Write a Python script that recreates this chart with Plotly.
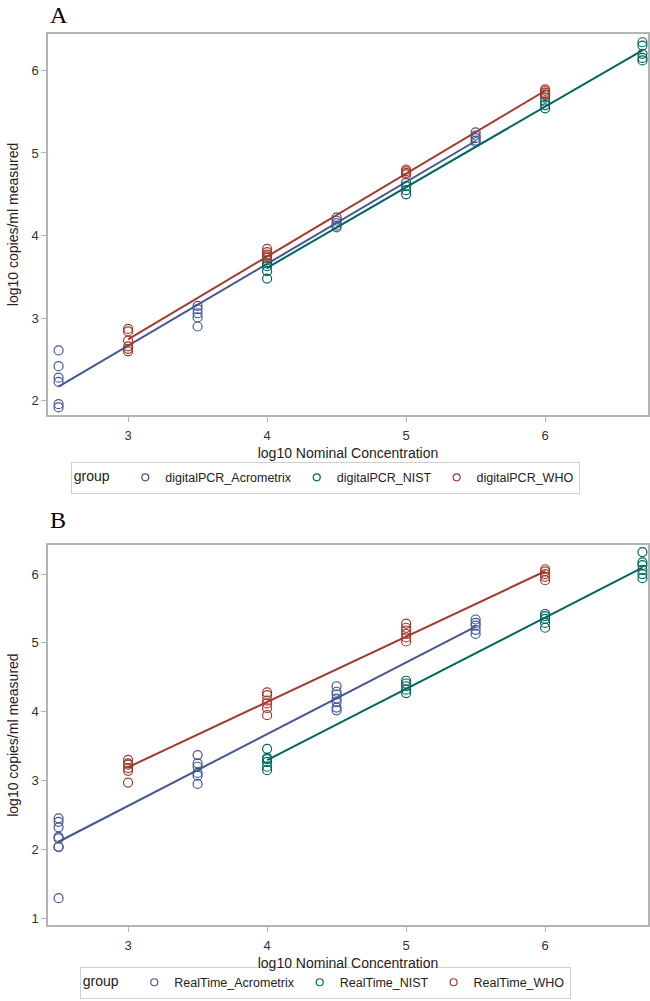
import numpy as np
import plotly.graph_objects as go
from plotly.subplots import make_subplots

# nominal concentrations (log10) per reference material
acro_x = [2.5, 3.5, 4.5, 5.5]
who_x = [3, 4, 5, 6]
nist_x = [4, 5, 6, 6.7]

# panel A: digital PCR measured values (log10 copies/ml)
dpcr_acro = [
    [2.61, 2.42, 2.28, 2.23, 1.96, 1.92],
    [3.15, 3.11, 3.06, 3.01, 2.90],
    [4.22, 4.18, 4.15, 4.12, 4.10],
    [5.25, 5.21, 5.18, 5.15, 5.13],
]
dpcr_nist = [
    [3.70, 3.66, 3.63, 3.57, 3.48],
    [4.64, 4.60, 4.55, 4.50],
    [5.67, 5.62, 5.58, 5.54],
    [6.34, 6.30, 6.20, 6.15, 6.12],
]
dpcr_who = [
    [2.87, 2.84, 2.73, 2.66, 2.63, 2.60],
    [3.84, 3.80, 3.77, 3.75, 3.73],
    [4.80, 4.78, 4.76, 4.74],
    [5.77, 5.75, 5.73, 5.71, 5.70],
]

# panel B: real-time PCR measured values (log10 copies/ml)
rt_acro = [
    [2.45, 2.40, 2.32, 2.18, 2.16, 2.04, 2.03, 1.29],
    [3.37, 3.25, 3.20, 3.11, 3.07, 2.95],
    [4.37, 4.29, 4.25, 4.19, 4.14, 4.06, 4.02],
    [5.34, 5.29, 5.25, 5.19, 5.13],
]
rt_nist = [
    [3.46, 3.33, 3.31, 3.27, 3.20, 3.15],
    [4.45, 4.41, 4.37, 4.32, 4.27],
    [5.42, 5.39, 5.35, 5.29, 5.22],
    [6.32, 6.17, 6.13, 6.06, 6.00, 5.94],
]
rt_who = [
    [3.30, 3.25, 3.23, 3.18, 3.14, 2.97],
    [4.28, 4.24, 4.16, 4.12, 4.05, 3.95],
    [5.28, 5.22, 5.18, 5.13, 5.08, 5.02],
    [6.07, 6.04, 6.00, 5.96, 5.91],
]

COLORS = {"Acrometrix": "#445694", "NIST": "#01665E", "WHO": "#A23A2E"}
FONT = "Liberation Sans, Arial, sans-serif"


def flatten(levels, values):
    xs, ys = [], []
    for x, vals in zip(levels, values):
        xs += [x] * len(vals)
        ys += vals
    return np.array(xs, dtype=float), np.array(ys, dtype=float)


fig = make_subplots(rows=2, cols=1, vertical_spacing=0.146)

panels = [
    (1, "digitalPCR", "legend", [("Acrometrix", acro_x, dpcr_acro), ("NIST", nist_x, dpcr_nist), ("WHO", who_x, dpcr_who)]),
    (2, "RealTime", "legend2", [("Acrometrix", acro_x, rt_acro), ("NIST", nist_x, rt_nist), ("WHO", who_x, rt_who)]),
]

for row, prefix, leg, groups in panels:
    for name, levels, values in groups:
        xs, ys = flatten(levels, values)
        color = COLORS[name]
        slope, icpt = np.polyfit(xs, ys, 1)
        lx = np.array([xs.min(), xs.max()])
        fig.add_trace(
            go.Scatter(
                x=lx, y=slope * lx + icpt, mode="lines",
                line=dict(color=color, width=2), showlegend=False, hoverinfo="skip",
            ),
            row=row, col=1,
        )
        fig.add_trace(
            go.Scatter(
                x=xs, y=ys, mode="markers", name=f"{prefix}_{name}", showlegend=False,
                marker=dict(symbol="circle-open", size=9, color=color, line=dict(width=1.2)),
                cliponaxis=False,
            ),
            row=row, col=1,
        )
        # smaller symbol for the legend entry
        fig.add_trace(
            go.Scatter(
                x=[None], y=[None], mode="markers", name=f"{prefix}_{name}", legend=leg,
                marker=dict(symbol="circle-open", size=7, color=color, line=dict(width=1.2)),
            ),
            row=row, col=1,
        )

axis_common = dict(
    showline=True, linecolor="#b4b4b4", linewidth=1.5, mirror=True,
    ticks="outside", ticklen=5, tickcolor="#b4b4b4", showgrid=False, zeroline=False,
    tickfont=dict(family=FONT, size=13, color="#333333"),
    title_font=dict(family=FONT, size=14, color="#222222"),
    automargin=False,
)

for row in (1, 2):
    fig.update_xaxes(range=[2.424, 6.74], tickvals=[3, 4, 5, 6], ticklabelstandoff=3,
                     title_text="log10 Nominal Concentration", title_standoff=6,
                     row=row, col=1, **axis_common)
fig.update_yaxes(range=[1.83, 6.44], tickvals=[2, 3, 4, 5, 6],
                 title_text="log10 copies/ml measured", title_standoff=10,
                 row=1, col=1, **axis_common)
fig.update_yaxes(range=[0.9, 6.42], tickvals=[1, 2, 3, 4, 5, 6],
                 title_text="log10 copies/ml measured", title_standoff=10,
                 row=2, col=1, **axis_common)

fig.update_layout(
    yaxis=dict(domain=[0.5725, 1.0]),
    yaxis2=dict(domain=[0.0, 0.4263]),
)

legend_style = dict(
    orientation="h", xanchor="center", x=0.462, yanchor="middle",
    bordercolor="#d0d0d0", borderwidth=1, bgcolor="white",
    font=dict(family=FONT, size=12.5, color="#222222"),
    title=dict(text="group  ", font=dict(family=FONT, size=14, color="#222222"), side="left"),
    itemwidth=30, tracegroupgap=0,
)

fig.update_layout(
    width=650, height=1001,
    margin=dict(l=48, r=2, t=34, b=71),
    paper_bgcolor="white", plot_bgcolor="white",
    showlegend=True,
    legend=dict(y=0.502, **legend_style),
    legend2=dict(y=-0.0647, **legend_style),
    annotations=[
        dict(text="A", xref="paper", yref="paper", x=0.0, y=1.0, yshift=19,
             xanchor="left", yanchor="middle", showarrow=False,
             font=dict(family="Liberation Serif, Times New Roman, serif", size=24, color="black")),
        dict(text="B", xref="paper", yref="paper", x=0.0, y=0.4263, yshift=25,
             xanchor="left", yanchor="middle", showarrow=False,
             font=dict(family="Liberation Serif, Times New Roman, serif", size=24, color="black")),
    ],
)

# drop the default page margin so the figure fills the window exactly
fig.write_html(
    "out.html",
    config={"displayModeBar": False},
    post_script="document.body.style.margin='0';document.body.style.overflow='hidden';",
)
